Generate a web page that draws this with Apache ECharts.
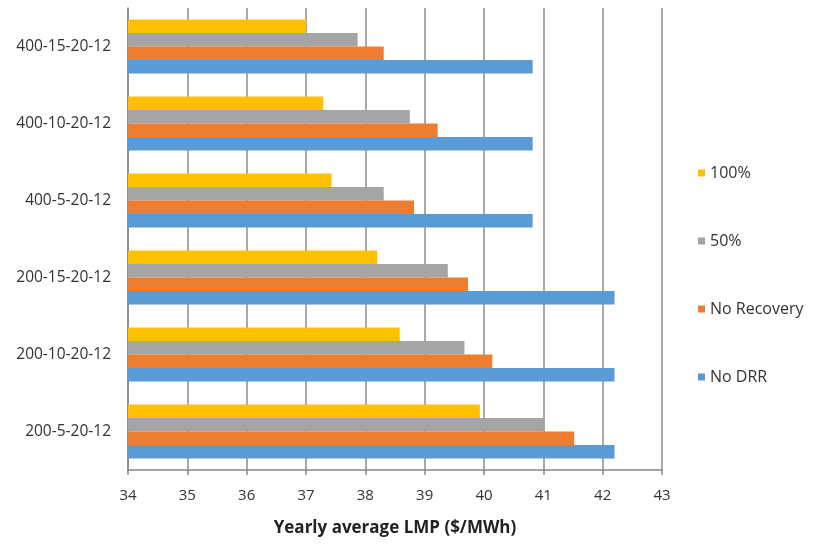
<!DOCTYPE html>
<html><head><meta charset="utf-8">
<script src="https://cdn.jsdelivr.net/npm/echarts@6/dist/echarts.min.js"></script>
<style>html,body{margin:0;padding:0;background:#fff}#c{width:820px;height:544px}</style>
</head><body><div id="c"></div>
<script>
const categories = ['200-5-20-12','200-10-20-12','200-15-20-12','400-5-20-12','400-10-20-12','400-15-20-12'];
const noDRR      = [42.2, 42.2, 42.2, 40.82, 40.82, 40.82];
const noRecovery = [41.52, 40.14, 39.73, 38.82, 39.22, 38.31];
const half       = [41.01, 39.67, 39.39, 38.31, 38.75, 37.87];
const full       = [39.93, 38.58, 38.2, 37.43, 37.29, 37.0];
const seriesNames = ['100%','50%','No Recovery','No DRR'];
const colors = ['#FFC000','#A5A5A5','#ED7D31','#5B9BD5'];
const values = [full, half, noRecovery, noDRR];

const chart = echarts.init(document.getElementById('c'));
const font = '"Open Sans", "Liberation Sans", sans-serif';
chart.setOption({
  animation:false,
  textStyle:{fontFamily:font},
  grid:{left:128,right:158,top:8,bottom:74,containLabel:false},
  legend:{
    orient:'vertical', left:693, top:160, itemGap:52,
    itemWidth:7, itemHeight:7, icon:'rect',
    data:['100%','50%','No Recovery','No DRR'],
    textStyle:{fontSize:16,color:'#333',fontFamily:font}
  },
  xAxis:{
    type:'value', min:34, max:43, interval:1,
    name:'Yearly average LMP ($/MWh)', nameLocation:'middle', nameGap:50,
    nameTextStyle:{fontSize:17,fontWeight:'bold',color:'#222',fontFamily:font},
    axisLine:{show:true,lineStyle:{color:'#888',width:1.5}},
    axisTick:{show:true,length:5,lineStyle:{color:'#888',width:1.5}},
    axisLabel:{fontSize:15,color:'#333',margin:18},
    splitLine:{show:true,lineStyle:{color:'#8c8c8c',width:1.5}}
  },
  yAxis:{
    type:'category', data:categories,
    axisLine:{show:true,lineStyle:{color:'#888',width:1.5}},
    axisTick:{show:false},
    axisLabel:{fontSize:15.5,color:'#333',margin:17}
  },
  series: seriesNames.map((n,i)=>({
    name:n, type:'bar', data:values[i],
    barGap:'0%', barCategoryGap:'30%',
    itemStyle:{color:colors[i]}
  }))
});
</script></body></html>
